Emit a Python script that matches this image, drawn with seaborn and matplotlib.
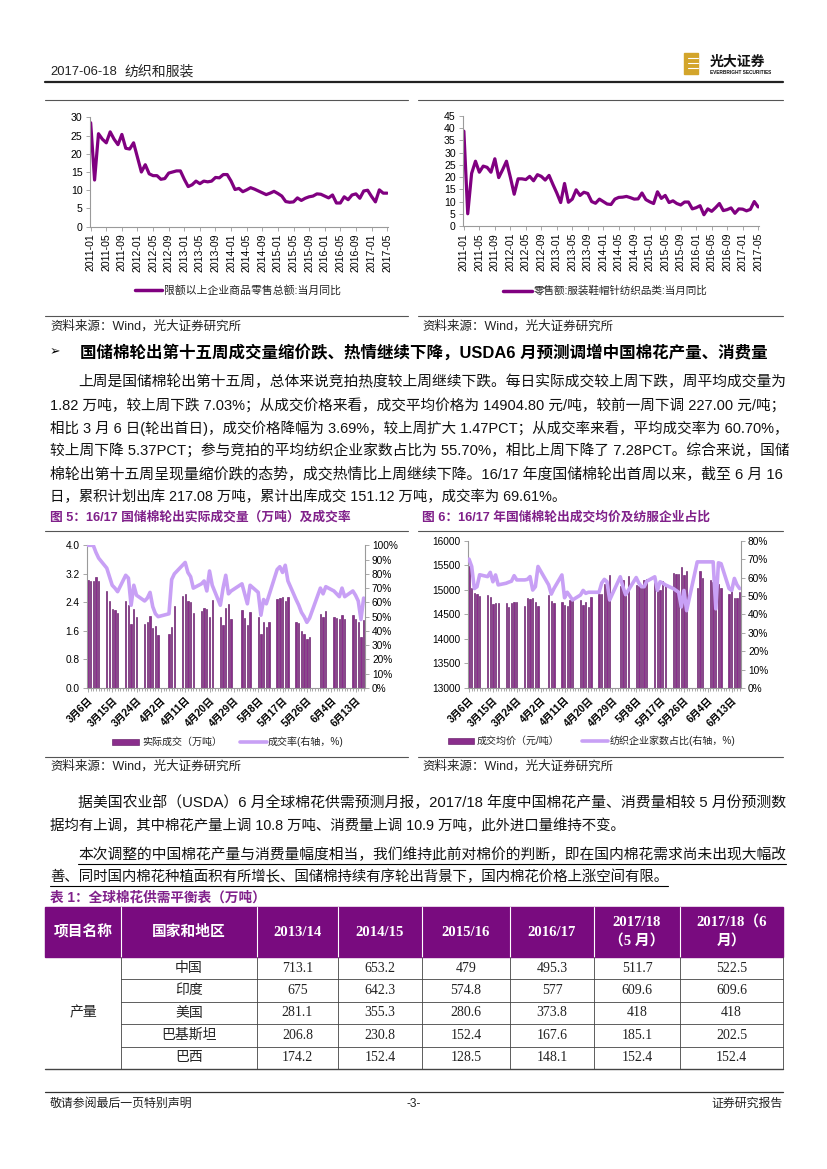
import numpy as np
import pandas as pd
import matplotlib
matplotlib.use("Agg")
import matplotlib.pyplot as plt
import seaborn as sns
from matplotlib.lines import Line2D
from matplotlib.patches import Rectangle

# ---------------- data ----------------
months = pd.date_range("2011-01-01", "2017-05-01", freq="MS").strftime("%Y-%m").tolist()

retail_total_yoy = [
    28.5, 12.8, 25.5, 24.0, 23.0, 26.0, 24.0, 22.5, 25.3, 21.5, 21.3, 23.0,
    19.0, 15.0, 17.0, 14.5, 14.0, 14.0, 13.0, 13.2, 14.7, 15.0, 15.3, 15.3,
    13.0, 11.0, 11.5, 12.5, 11.8, 12.5, 12.3, 12.5, 13.5, 13.4, 14.3, 14.3,
    12.5, 10.2, 10.5, 9.6, 10.1, 10.7, 10.3, 9.8, 9.3, 8.8, 9.2, 9.7,
    9.1, 8.4, 6.9, 6.7, 6.8, 7.9, 7.2, 7.8, 8.2, 8.4, 9.0, 8.9,
    8.4, 7.9, 8.7, 6.5, 6.5, 8.2, 7.4, 8.7, 9.0, 7.8, 9.8, 10.0,
    8.3, 6.8, 10.1, 9.2, 9.2,
]
apparel_retail_yoy = [
    38.8, 5.0, 21.5, 26.5, 22.0, 24.5, 24.0, 22.0, 27.5, 19.8, 23.0, 26.5,
    20.0, 13.0, 19.3, 19.3, 19.0, 20.3, 18.5, 21.0, 20.3, 18.8, 20.7, 17.0,
    13.5, 9.6, 17.4, 9.7, 11.0, 14.8, 12.5, 13.8, 13.3, 10.0, 9.3, 11.0,
    10.0, 9.0, 8.8, 11.0, 11.7, 11.8, 12.1, 11.6, 11.0, 11.1, 13.5, 10.8,
    9.9, 9.2, 14.0, 11.3, 12.5, 9.6, 10.3, 9.2, 8.6, 9.8, 9.8, 7.0,
    7.5, 8.3, 4.6, 7.0, 6.0, 7.5, 9.2, 6.3, 6.7, 7.4, 5.2, 7.0,
    6.9, 6.2, 6.8, 10.0, 7.8,
]

trade_days = [
    "2017-03-06", "2017-03-07", "2017-03-08", "2017-03-09", "2017-03-10",
    "2017-03-13", "2017-03-14", "2017-03-15", "2017-03-16", "2017-03-17",
    "2017-03-20", "2017-03-21", "2017-03-22", "2017-03-23", "2017-03-24",
    "2017-03-27", "2017-03-28", "2017-03-29", "2017-03-30", "2017-03-31", "2017-04-01",
    "2017-04-05", "2017-04-06", "2017-04-07",
    "2017-04-10", "2017-04-11", "2017-04-12", "2017-04-13", "2017-04-14",
    "2017-04-17", "2017-04-18", "2017-04-19", "2017-04-20", "2017-04-21",
    "2017-04-24", "2017-04-25", "2017-04-26", "2017-04-27", "2017-04-28",
    "2017-05-02", "2017-05-03", "2017-05-04", "2017-05-05",
    "2017-05-08", "2017-05-09", "2017-05-10", "2017-05-11", "2017-05-12",
    "2017-05-15", "2017-05-16", "2017-05-17", "2017-05-18", "2017-05-19",
    "2017-05-22", "2017-05-23", "2017-05-24", "2017-05-25", "2017-05-26", "2017-05-27",
    "2017-05-31", "2017-06-01", "2017-06-02",
    "2017-06-05", "2017-06-06", "2017-06-07", "2017-06-08", "2017-06-09",
    "2017-06-12", "2017-06-13", "2017-06-14", "2017-06-15", "2017-06-16",
]
deal_volume = [
    3.03, 3.00, 3.00, 3.12, 3.00,
    2.72, 2.45, 2.22, 2.20, 2.10,
    2.44, 2.33, 1.79, 2.22, 1.98,
    1.78, 1.86, 2.02, 1.67, 1.75, 1.48,
    1.50, 1.71, 2.30,
    2.58, 2.63, 2.44, 2.40, 2.09,
    2.17, 2.23, 2.22, 1.99, 2.48,
    1.98, 1.77, 2.25, 2.36, 1.93,
    2.19, 1.95, 1.77, 2.13,
    1.99, 1.52, 1.85, 1.71, 1.85,
    2.49, 2.51, 2.54, 2.44, 2.55,
    1.84, 1.82, 1.61, 1.51, 1.37, 1.44,
    2.07, 1.98, 2.17,
    2.00, 1.97, 1.93, 2.06, 1.93,
    2.04, 1.94, 1.86, 1.42, 1.90,
]
deal_rate = [
    100, 100, 100, 95, 91,
    84, 78, 72, 70, 67.5,
    79, 77, 58, 72, 65,
    61, 63, 67, 57, 52, 50,
    52, 76, 80,
    86, 88, 81, 78, 70,
    73, 75, 68, 82, 72,
    58, 70, 79, 66, 68,
    73, 66, 59, 72,
    67, 51, 62, 59, 65,
    83, 85, 81, 86, 75,
    62, 58, 53, 50, 46, 49,
    70, 66, 71,
    68, 66, 64, 70, 64,
    68, 65, 61, 48, 63,
]
deal_price = [
    15480, 15030, 14930, 14910, 14880,
    14900, 14850, 14720, 14730, 14730,
    14725, 14645, 14725, 14760, 14760,
    14665, 14823, 14803, 14823, 14760, 14665,
    14900, 14775, 14730,
    14760, 14700, 14680, 14800, 14830,
    14795, 14690, 14760, 14645, 14850,
    14920, 14920, 15110, 15030, 15300,
    15068, 15205, 14932, 15287,
    15100, 15068, 15100, 15205, 15220,
    15160, 15080, 15000, 15180, 15100,
    15341, 15320, 15320, 15465, 15300, 15380,
    15045, 15380, 15245,
    15190, 15150, 15100, 15120, 15040,
    14912, 14966, 14830, 14830, 14955,
]
textile_share = [
    70, 66, 54, 55, 61.5,
    60.5, 62.8, 57.7, 61.4, 56,
    56.9, 57.5, 58, 61, 58.7,
    58.7, 59, 60.5, 53.2, 55, 66,
    56, 51, 54,
    61.4, 49, 52, 50, 47.8,
    50.5, 53, 51.4, 52, 52,
    52, 57, 59, 57.7, 47.8,
    60.4, 55, 50.7, 53,
    60, 57, 55, 55, 58,
    60.4, 53, 57.7, 57, 56,
    54, 53, 52, 44, 53, 42,
    68.5, 68.5, 68.5,
    68.5, 68.5, 43, 68, 67.5,
    54, 53, 59.5, 56, 54,
]

table_header = ["项目名称", "国家和地区", "2013/14", "2014/15", "2015/16", "2016/17",
                "2017/18\n（5 月）", "2017/18（6\n月）"]
regions = ["中国", "印度", "美国", "巴基斯坦", "巴西"]
season_1314 = [713.1, 675, 281.1, 206.8, 174.2]
season_1415 = [653.2, 642.3, 355.3, 230.8, 152.4]
season_1516 = [479, 574.8, 280.6, 152.4, 128.5]
season_1617 = [495.3, 577, 373.8, 167.6, 148.1]
season_1718_may = [511.7, 609.6, 418, 185.1, 152.4]
season_1718_jun = [522.5, 609.6, 418, 202.5, 152.4]

# ---------------- styling ----------------
sns.set_theme(style="white")
plt.rcParams['font.family'] = ['Liberation Sans', 'Noto Sans CJK SC', 'DejaVu Sans']
plt.rcParams['axes.unicode_minus'] = False

PURPLE = "#800080"
BAR = "#8A2E8C"
BAR_EDGE = "#5A0E5E"
LIGHT = "#C8A0F5"
TITLE = "#80208A"
HEAD_BG = "#790B7F"
SPINE = "#9A9A9A"

W, H = 827, 1169
fig = plt.figure(figsize=(W / 100, H / 100), dpi=100)
fig.patch.set_facecolor("white")
R = fig.canvas.get_renderer()


def add_ax(x0, y0, x1, y1):
    return fig.add_axes([x0 / W, 1 - y1 / H, (x1 - x0) / W, (y1 - y0) / H])


def put(x, y, s, **kw):
    kw.setdefault("va", "center")
    return fig.text(x / W, 1 - y / H, s, **kw)


def rule(x0, x1, y, lw=0.8, color="#333333"):
    fig.add_artist(Line2D([x0 / W, x1 / W], [1 - y / H] * 2, lw=lw, color=color))


def vrule(x, y0, y1, lw=0.8, color="#333333"):
    fig.add_artist(Line2D([x / W] * 2, [1 - y0 / H, 1 - y1 / H], lw=lw, color=color))


def fit_line(x0, x1, y, s, fs=10.4, justify=True, underline=False, **kw):
    t = put(x0, y, s, fontsize=fs, **kw)
    if justify:
        w = t.get_window_extent(R).width
        t.set_fontsize(fs * (x1 - x0) / w)
    if underline:
        w = t.get_window_extent(R).width
        rule(x0, x0 + w, y + 9, lw=0.8, color="black")
    return t


def style_axis(ax, left=True, right=False):
    for side in ["top", "right", "left", "bottom"]:
        ax.spines[side].set_visible(False)
    ax.spines["bottom"].set_visible(True)
    ax.spines["bottom"].set_color(SPINE)
    ax.spines["bottom"].set_linewidth(0.8)
    if left:
        ax.spines["left"].set_visible(True)
        ax.spines["left"].set_color(SPINE)
        ax.spines["left"].set_linewidth(0.8)
    if right:
        ax.spines["right"].set_visible(True)
        ax.spines["right"].set_color(SPINE)
        ax.spines["right"].set_linewidth(0.8)
    ax.tick_params(axis="both", which="both", direction="out", color=SPINE,
                   labelcolor="black", width=0.6, pad=2)
    ax.set_xlabel("")
    ax.set_ylabel("")
    ax.grid(False)


# ---------------- header ----------------
put(50, 72, "2017-06-18", fontsize=9.4, color="#222222")
put(124, 72, "纺织和服装", fontsize=10, color="#222222")
rule(45, 783, 82, lw=1.6, color="#222222")
fig.add_artist(Rectangle((684 / W, 1 - 74 / H), 14 / W, 21 / H, color="#D3A52B",
                         transform=fig.transFigure))
for yy in (58, 63, 68):
    rule(688, 698, yy, lw=0.8, color="white")
put(710, 62, "光大证券", fontsize=10, fontweight="bold", color="#111111")
put(710, 73, "EVERBRIGHT SECURITIES", fontsize=3.4, fontweight="bold", color="#111111")

# ---------------- top charts ----------------
rule(45, 408, 100, lw=0.8, color="#555555")
rule(418, 783, 100, lw=0.8, color="#555555")


def month_chart(x0, y0, x1, y1, values, ymax, step):
    ax = add_ax(x0, y0, x1, y1)
    idx = np.arange(len(months))
    sns.lineplot(x=idx, y=values, ax=ax, color=PURPLE, linewidth=2.3)
    ax.set_xlim(-0.3, len(idx) - 0.7)
    ax.set_ylim(0, ymax)
    ax.set_yticks(np.arange(0, ymax + 0.1, step))
    ax.set_yticklabels([f"{v:g}" for v in np.arange(0, ymax + 0.1, step)])
    ax.set_xticks(idx[::4])
    ax.set_xticklabels([months[i] for i in idx[::4]], rotation=90)
    style_axis(ax)
    ax.tick_params(axis="both", labelsize=7.6, length=3, left=True, bottom=True)
    return ax


month_chart(89.5, 117.3, 388.3, 226.7, retail_total_yoy, 30, 5)
month_chart(462.7, 116, 759.3, 226, apparel_retail_yoy, 45, 5)

rule(135, 162, 290, lw=2.5, color=PURPLE)
put(164, 290, "限额以上企业商品零售总额:当月同比", fontsize=7.8, color="#222222")
rule(503, 532, 290.5, lw=2.5, color=PURPLE)
put(534, 290.5, "零售额:服装鞋帽针纺织品类:当月同比", fontsize=7.6, color="#222222")

rule(45, 408, 316, lw=0.8, color="#555555")
rule(418, 783, 316, lw=0.8, color="#555555")
put(50, 326, "资料来源：Wind，光大证券研究所", fontsize=9, color="#222222")
put(422, 326, "资料来源：Wind，光大证券研究所", fontsize=9, color="#222222")

# ---------------- section text ----------------
put(50, 352, "\u27a2", fontsize=9, color="black")
fit_line(80, 770, 352,
         "国储棉轮出第十五周成交量缩价跌、热情继续下降，USDA6 月预测调增中国棉花产量、消费量",
         fs=10.5, fontweight="bold", color="black")

para1 = [
    "上周是国储棉轮出第十五周，总体来说竞拍热度较上周继续下跌。每日实际成交较上周下跌，周平均成交量为",
    "1.82 万吨，较上周下跌 7.03%；从成交价格来看，成交平均价格为 14904.80 元/吨，较前一周下调 227.00 元/吨；",
    "相比 3 月 6 日(轮出首日)，成交价格降幅为 3.69%，较上周扩大 1.47PCT；从成交率来看，平均成交率为 60.70%，",
    "较上周下降 5.37PCT；参与竞拍的平均纺织企业家数占比为 55.70%，相比上周下降了 7.28PCT。综合来说，国储",
    "棉轮出第十五周呈现量缩价跌的态势，成交热情比上周继续下降。16/17 年度国储棉轮出首周以来，截至 6 月 16",
    "日，累积计划出库 217.08 万吨，累计出库成交 151.12 万吨，成交率为 69.61%。",
]
for i, s in enumerate(para1):
    x0 = 78 if i == 0 else 50
    fit_line(x0, 783, 382 + i * 23, s, justify=(i < len(para1) - 1), color="#111111")

put(50, 517, "图 5：16/17 国储棉轮出实际成交量（万吨）及成交率", fontsize=9.2,
    fontweight="bold", color=TITLE)
put(422, 517, "图 6：16/17 年国储棉轮出成交均价及纺服企业占比", fontsize=9.2,
    fontweight="bold", color=TITLE)

# ---------------- middle charts ----------------
rule(45, 408, 531, lw=0.8, color="#555555")
rule(418, 783, 531, lw=0.8, color="#555555")

start = pd.Timestamp("2017-03-06")
day_idx = np.array((pd.to_datetime(trade_days) - start).days)
tick_days = np.arange(0, 103, 9)
tick_labels = [f"{(start + pd.Timedelta(days=int(d))).month}月{(start + pd.Timedelta(days=int(d))).day}日"
               for d in tick_days]


def trade_chart(x0, y0, x1, y1, bars, ylo, yhi, ystep, yfmt, line, rhi, rstep):
    ax = add_ax(x0, y0, x1, y1)
    sns.barplot(x=day_idx, y=bars, native_scale=True, width=0.5, color=BAR,
                saturation=1, edgecolor=BAR_EDGE, linewidth=0.4, errorbar=None, ax=ax)
    ax.set_ylim(ylo, yhi)
    yt = np.arange(ylo, yhi + ystep / 2, ystep)
    ax.set_yticks(yt)
    ax.set_yticklabels([yfmt(v) for v in yt])
    ax.set_xlim(-0.5, 102.5)
    ax.set_xticks(tick_days)
    ax.set_xticklabels(tick_labels, rotation=45, ha="right", rotation_mode="anchor")
    ax.set_xticks(np.arange(0, 103), minor=True)
    style_axis(ax)
    ax.tick_params(axis="both", which="major", labelsize=7.3, length=3,
                   left=True, bottom=True)
    ax.tick_params(axis="x", which="minor", length=2, bottom=True)
    for lab in ax.get_xticklabels():
        lab.set_fontweight("bold")

    ax2 = ax.twinx()
    sns.lineplot(x=day_idx, y=line, ax=ax2, color=LIGHT, linewidth=2.6)
    ax2.set_ylim(0, rhi)
    rt = np.arange(0, rhi + 0.1, rstep)
    ax2.set_yticks(rt)
    ax2.set_yticklabels([f"{v:g}%" for v in rt])
    ax2.set_xlim(-0.5, 102.5)
    style_axis(ax2, left=False, right=True)
    ax2.spines["bottom"].set_visible(False)
    ax2.tick_params(axis="y", labelsize=7.3, length=3, right=True)
    return ax, ax2


trade_chart(86.5, 545.3, 365, 688, deal_volume, 0, 4.0, 0.8, lambda v: f"{v:.1f}",
            deal_rate, 100, 10)
trade_chart(467.7, 540.7, 741, 688, deal_price, 13000, 16000, 500, lambda v: f"{v:.0f}",
            textile_share, 80, 10)

fig.add_artist(Rectangle((112 / W, 1 - 745 / H), 27 / W, 6 / H, facecolor=BAR,
                         edgecolor=BAR_EDGE, lw=0.4, transform=fig.transFigure))
put(142, 742, "实际成交（万吨）", fontsize=7.2, color="#222222")
rule(240, 267, 742, lw=2.6, color=LIGHT)
put(268, 742, "成交率(右轴，%)", fontsize=7.2, color="#222222")
fig.add_artist(Rectangle((448 / W, 1 - 744 / H), 26 / W, 6 / H, facecolor=BAR,
                         edgecolor=BAR_EDGE, lw=0.4, transform=fig.transFigure))
put(477, 741, "成交均价（元/吨）", fontsize=7.2, color="#222222")
rule(582, 608, 741, lw=2.6, color=LIGHT)
put(610, 741, "纺织企业家数占比(右轴，%)", fontsize=7.2, color="#222222")

rule(45, 408, 757, lw=0.8, color="#555555")
rule(418, 783, 757, lw=0.8, color="#555555")
put(50, 766, "资料来源：Wind，光大证券研究所", fontsize=9, color="#222222")
put(422, 766, "资料来源：Wind，光大证券研究所", fontsize=9, color="#222222")

# ---------------- second text block ----------------
fit_line(78, 783, 803,
         "据美国农业部（USDA）6 月全球棉花供需预测月报，2017/18 年度中国棉花产量、消费量相较 5 月份预测数",
         color="#111111")
fit_line(50, 783, 826,
         "据均有上调，其中棉花产量上调 10.8 万吨、消费量上调 10.9 万吨，此外进口量维持不变。",
         justify=False, color="#111111")
fit_line(78, 783, 855,
         "本次调整的中国棉花产量与消费量幅度相当，我们维持此前对棉价的判断，即在国内棉花需求尚未出现大幅改",
         underline=True, color="#111111")
fit_line(50, 783, 877,
         "善、同时国内棉花种植面积有所增长、国储棉持续有序轮出背景下，国内棉花价格上涨空间有限。",
         justify=False, underline=True, color="#111111")

# ---------------- table ----------------
put(50, 898, "表 1：全球棉花供需平衡表（万吨）", fontsize=9.8, fontweight="bold", color=TITLE)
col_edges = [45, 121, 257, 338, 422, 510, 594, 680, 783]
head_top, head_bot = 907, 957
row_h = 22.4
fig.add_artist(Rectangle((45 / W, 1 - head_bot / H), (783 - 45) / W, (head_bot - head_top) / H,
                         color=HEAD_BG, transform=fig.transFigure))
for xe in col_edges[1:-1]:
    vrule(xe, head_top, head_bot, lw=0.8, color="white")
serif = ['Liberation Serif', 'Noto Sans CJK SC']
for i, lab in enumerate(table_header):
    cx = (col_edges[i] + col_edges[i + 1]) / 2
    put(cx, (head_top + head_bot) / 2, lab, fontsize=10.6, fontweight="bold", color="white",
        ha="center", family=serif, linespacing=1.5)

columns = [season_1314, season_1415, season_1516, season_1617, season_1718_may, season_1718_jun]
body_bot = head_bot + row_h * len(regions)
for r, reg in enumerate(regions):
    cy = head_bot + row_h * (r + 0.5)
    put((col_edges[1] + col_edges[2]) / 2, cy, reg, fontsize=10, color="#222222",
        ha="center", family=serif)
    for c, col in enumerate(columns):
        cx = (col_edges[c + 2] + col_edges[c + 3]) / 2
        put(cx, cy, f"{col[r]:g}", fontsize=10, color="#222222", ha="center", family=serif)
    if r > 0:
        rule(col_edges[1], col_edges[-1], head_bot + row_h * r, lw=0.6, color="#444444")
put((col_edges[0] + col_edges[1]) / 2, (head_bot + body_bot) / 2, "产量", fontsize=10,
    color="#222222", ha="center", family=serif)
for xe in col_edges[1:]:
    vrule(xe, head_bot, body_bot, lw=0.6, color="#444444")
rule(45, 783, body_bot, lw=1.0, color="#444444")

# ---------------- footer ----------------
rule(45, 783, 1092, lw=0.9, color="#333333")
put(50, 1104, "敬请参阅最后一页特别声明", fontsize=8.6, color="#222222")
put(414, 1104, "-3-", fontsize=8.6, color="#222222", ha="center")
put(783, 1104, "证券研究报告", fontsize=8.6, color="#222222", ha="right")

fig.savefig("out.png", dpi=100, facecolor="white")
